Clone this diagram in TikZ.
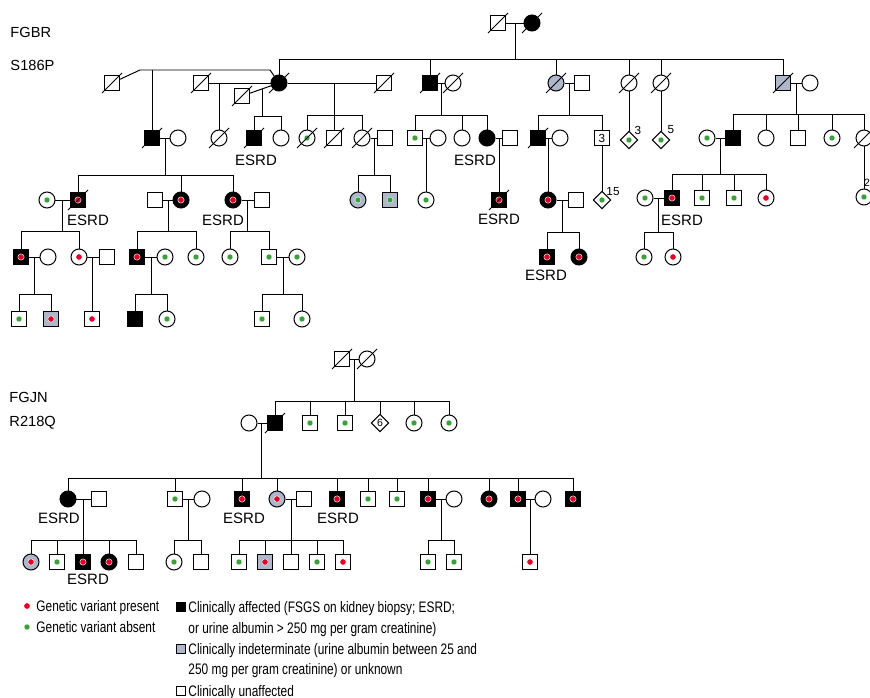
\documentclass[tikz,border=0pt]{standalone}
\usepackage{fontspec}
\setmainfont{Liberation Sans}
\newfontfamily\narrowfont[FakeStretch=0.78]{Liberation Sans}
\usetikzlibrary{shapes.geometric}

\definecolor{indgrey}{RGB}{175,183,202}
\definecolor{varred}{RGB}{226,0,38}
\definecolor{vargreen}{RGB}{58,160,58}

\begin{document}
\begin{tikzpicture}[x=0.3mm, y=-0.3mm, line width=0.85pt,
    sq/.style={draw, fill=white, minimum size=4.5mm, inner sep=0pt, font=\fontsize{10}{10}\selectfont},
    ci/.style={circle, draw, fill=white, minimum size=4.8mm, inner sep=0pt},
    dm/.style={diamond, draw, fill=white, minimum size=5.3mm, inner sep=0pt, font=\fontsize{9}{9}\selectfont},
    aff/.style={fill=black},
    ind/.style={fill=indgrey},
    redvar/.style={path picture={\filldraw[fill=varred, draw=white, line width=0.35pt]
        (path picture bounding box.center) circle[radius=0.95mm];}},
    greenvar/.style={path picture={\filldraw[fill=vargreen, draw=white, line width=0.35pt]
        (path picture bounding box.center) circle[radius=0.9mm];}},
    esrd/.style={inner sep=0pt, font=\fontsize{12.8}{14}\selectfont},
    num/.style={inner sep=0pt, font=\fontsize{10}{10}\selectfont},
    tag/.style={anchor=base west, inner sep=0pt, font=\fontsize{12.5}{14}\selectfont},
    legtxt/.style={anchor=base west, inner sep=0pt, font=\narrowfont\fontsize{13}{15}\selectfont}]

  \useasboundingbox (0,0) rectangle (870,698);
  \clip (0,0) rectangle (870,698);

  % ========== 上：FGBR 家系 ==========
  \begin{scope}[local bounding box=fgbr]

    \node[tag] (t1) at (10,38) {FGBR};
    \node[tag] (t2) at (10,71) {S186P};

    % 第一代
    \node[sq] (b11) at (498,23) {};
    \node[ci, aff] (b12) at (532,23) {};

    % 第二代
    \node[sq] (b20) at (112,83) {};
    \node[sq] (b2h) at (201,83) {};
    \node[sq] (b2k) at (242,96) {};
    \node[ci, aff] (b21) at (279,83) {};
    \node[sq] (b2m) at (384,83) {};
    \node[sq, aff] (b22) at (430,83) {};
    \node[ci] (b23) at (453,83) {};
    \node[ci, ind] (b24) at (556,83) {};
    \node[sq] (b25) at (582,83) {};
    \node[ci] (b26) at (629,83) {};
    \node[ci] (b27) at (661,83) {};
    \node[sq, ind] (b28) at (783,83) {};
    \node[ci] (b29) at (810,83) {};

    % 第三代
    \node[sq, aff] (b31) at (152,138) {};
    \node[ci] (b32) at (178,138) {};
    \node[ci] (b33) at (219,138) {};
    \node[sq, aff] (b34) at (254,138) {};
    \node[ci] (b35) at (281,138) {};
    \node[ci, greenvar] (b36) at (307,138) {};
    \node[sq] (b37) at (334,138) {};
    \node[ci] (b38) at (362,138) {};
    \node[sq] (b39) at (385,138) {};
    \node[sq, greenvar] (b3a) at (415,138) {};
    \node[ci] (b3b) at (438,138) {};
    \node[ci] (b3c) at (462,138) {};
    \node[ci, aff] (b3d) at (487,138) {};
    \node[sq] (b3e) at (510,138) {};
    \node[sq, aff] (b3f) at (538,138) {};
    \node[ci] (b3g) at (560,138) {};
    \node[sq] (b3h) at (602,138) {3};
    \node[dm, greenvar] (b3i) at (629,140) {};
    \node[dm, greenvar] (b3j) at (661,140) {};
    \node[ci, greenvar] (b3k) at (707,138) {};
    \node[sq, aff] (b3l) at (733,138) {};
    \node[ci] (b3m) at (766,138) {};
    \node[sq] (b3n) at (798,138) {};
    \node[ci, greenvar] (b3o) at (832,138) {};
    \node[ci] (b3p) at (864,138) {};

    % 第四代
    \node[ci, greenvar] (b41) at (47,200) {};
    \node[sq, aff, redvar] (b42) at (78,200) {};
    \node[sq] (b43) at (155,200) {};
    \node[ci, aff, redvar] (b44) at (181,200) {};
    \node[ci, aff, redvar] (b45) at (233,200) {};
    \node[sq] (b46) at (262,200) {};
    \node[ci, ind, greenvar] (b47) at (358,200) {};
    \node[sq, ind, greenvar] (b48) at (390,200) {};
    \node[ci, greenvar] (b49) at (426,200) {};
    \node[sq, aff, redvar] (b4a) at (499,200) {};
    \node[ci, aff, redvar] (b4b) at (548,200) {};
    \node[sq] (b4c) at (576,200) {};
    \node[dm, greenvar] (b4d) at (602,200) {};
    \node[ci, greenvar] (b4e) at (645,198) {};
    \node[sq, aff, redvar] (b4f) at (672,198) {};
    \node[sq, greenvar] (b4g) at (702,198) {};
    \node[sq, greenvar] (b4h) at (734,198) {};
    \node[ci, redvar] (b4i) at (766,198) {};
    \node[ci, greenvar] (b4j) at (864,197) {};

    % 第五代
    \node[sq, aff, redvar] (b51) at (21,257) {};
    \node[ci] (b52) at (48,257) {};
    \node[ci, redvar] (b53) at (79,257) {};
    \node[sq] (b54) at (107,257) {};
    \node[sq, aff, redvar] (b55) at (137,257) {};
    \node[ci, greenvar] (b56) at (165,257) {};
    \node[ci, greenvar] (b57) at (196,257) {};
    \node[ci, greenvar] (b58) at (230,257) {};
    \node[sq, greenvar] (b59) at (269,257) {};
    \node[ci, greenvar] (b5a) at (297,257) {};
    \node[sq, aff, redvar] (b5b) at (547,257) {};
    \node[ci, aff, redvar] (b5c) at (579,257) {};
    \node[ci, greenvar] (b5d) at (644,257) {};
    \node[ci, redvar] (b5e) at (673,257) {};

    % 第六代
    \node[sq, greenvar] (b61) at (19,319) {};
    \node[sq, ind, redvar] (b62) at (51,319) {};
    \node[sq, redvar] (b63) at (92,319) {};
    \node[sq, aff] (b64) at (135,319) {};
    \node[ci, greenvar] (b65) at (167,319) {};
    \node[sq, greenvar] (b66) at (262,319) {};
    \node[ci, greenvar] (b67) at (302,319) {};

    % 数字与 ESRD 标注
    \node[num] (n1) at (638,130) {3};
    \node[num] (n2) at (671,130) {5};
    \node[num] (n3) at (613,192) {15};
    \node[num, anchor=west, font=\fontsize{9}{9}\selectfont] (n4) at (863.6,183) {2};
    \node[esrd] (e1) at (256,160) {ESRD};
    \node[esrd] (e2) at (475,160) {ESRD};
    \node[esrd] (e3) at (88,220) {ESRD};
    \node[esrd] (e4) at (223,220) {ESRD};
    \node[esrd] (e5) at (499,219) {ESRD};
    \node[esrd] (e6) at (682,220) {ESRD};
    \node[esrd] (e7) at (546,275) {ESRD};

    % 同胞线的位置
    \coordinate (c1) at (140,70);
    \coordinate (c2) at (270,70);
    \coordinate (m2) at (262,89);
    \coordinate (f1) at (515,59);
    \coordinate (f2) at (262,116);
    \coordinate (f3) at (334,115);
    \coordinate (f4) at (441,115);
    \coordinate (f5) at (569,115);
    \coordinate (f6) at (796,114);
    \coordinate (f7) at (165,175);
    \coordinate (f8) at (374,175);
    \coordinate (f9) at (720,174);
    \coordinate (f10) at (62,231);
    \coordinate (f11) at (168,231);
    \coordinate (f12) at (247,231);
    \coordinate (f13) at (562,232);
    \coordinate (f14) at (658,232);
    \coordinate (f15) at (34,294);
    \coordinate (f16) at (151,294);
    \coordinate (f17) at (283,294);

    % 第一任丈夫的折线
    \draw (b20) -- (c1) -- (c2) -- (b21);
    \draw (b31 |- c1) -- (b31);

    % 婚配线
    \foreach \a/\b in {b11/b12, b2h/b21, b2k/b21, b21/b2m, b22/b23, b24/b25,
        b28/b29, b31/b32, b38/b39, b3a/b3b, b3d/b3e, b3f/b3g, b3k/b3l,
        b41/b42, b43/b44, b45/b46, b4b/b4c, b4e/b4f, b51/b52, b53/b54,
        b55/b56, b59/b5a}
      \draw (\a) -- (\b);

    % 独生子女
    \draw (b26) -- (b3i);
    \draw (b27) -- (b3j);
    \draw (b3h) -- (b4d);
    \draw (b3p) -- (b4j);
    \foreach \p/\c in {b2h/b33, b3a/b49, b3d/b4a, b3f/b4b, b53/b63}
      \draw (\c |- \p) -- (\c);

    % 同胞线
    \foreach \f/\p/\cs in {f1/b11/{b21,b22,b24,b26,b27,b28}, f2/m2/{b34,b35},
        f3/b2m/{b36,b37,b38}, f4/b22/{b3a,b3c,b3d}, f5/b24/{b3f,b3h},
        f6/b28/{b3l,b3m,b3n,b3o,b3p}, f7/b31/{b42,b44,b45}, f8/b38/{b47,b48},
        f9/b3k/{b4f,b4g,b4h,b4i}, f10/b41/{b51,b53}, f11/b43/{b55,b57},
        f12/b45/{b58,b59}, f13/b4b/{b5b,b5c}, f14/b4e/{b5d,b5e},
        f15/b51/{b61,b62}, f16/b55/{b64,b65}, f17/b59/{b66,b67}} {
      \draw (\f |- \p) -- (\f);
      \foreach \c in \cs
        \draw (\c) |- (\f);
    }
  \end{scope}

  % ========== 下：FGJN 家系 ==========
  \begin{scope}[local bounding box=fgjn]

    \node[tag] (t3) at (9,402) {FGJN};
    \node[tag] (t4) at (9,426) {R218Q};

    % 第一代
    \node[sq] (j11) at (342,359) {};
    \node[ci] (j12) at (367,359) {};

    % 第二代
    \node[ci] (j20) at (249,423) {};
    \node[sq, aff] (j21) at (275,423) {};
    \node[sq, greenvar] (j22) at (310,423) {};
    \node[sq, greenvar] (j23) at (345,423) {};
    \node[dm] (j24) at (380,423) {6};
    \node[ci, greenvar] (j25) at (414,423) {};
    \node[ci, greenvar] (j26) at (449,423) {};

    % 第三代
    \node[ci, aff] (j31) at (68,499) {};
    \node[sq] (j32) at (99,499) {};
    \node[sq, greenvar] (j33) at (175,499) {};
    \node[ci] (j34) at (202,499) {};
    \node[sq, aff, redvar] (j35) at (242,499) {};
    \node[ci, ind, redvar] (j36) at (277,499) {};
    \node[sq] (j37) at (304,499) {};
    \node[sq, aff, redvar] (j38) at (337,499) {};
    \node[sq, greenvar] (j39) at (368,499) {};
    \node[sq, greenvar] (j3a) at (397,499) {};
    \node[sq, aff, redvar] (j3b) at (428,499) {};
    \node[ci] (j3c) at (454,499) {};
    \node[ci, aff, redvar] (j3d) at (489,499) {};
    \node[sq, aff, redvar] (j3e) at (518,499) {};
    \node[ci] (j3f) at (543,499) {};
    \node[sq, aff, redvar] (j3g) at (573,499) {};

    % 第四代
    \node[ci, ind, redvar] (j41) at (31,562) {};
    \node[sq, greenvar] (j42) at (57,562) {};
    \node[sq, aff, redvar] (j43) at (83,562) {};
    \node[ci, aff, redvar] (j44) at (109,562) {};
    \node[sq] (j45) at (136,562) {};
    \node[ci, greenvar] (j46) at (174,562) {};
    \node[sq] (j47) at (201,562) {};
    \node[sq, greenvar] (j48) at (239,562) {};
    \node[sq, ind, redvar] (j49) at (265,562) {};
    \node[sq] (j4a) at (291,562) {};
    \node[sq, greenvar] (j4b) at (317,562) {};
    \node[sq, redvar] (j4c) at (343,562) {};
    \node[sq, greenvar] (j4d) at (428,562) {};
    \node[sq, greenvar] (j4e) at (454,562) {};
    \node[sq, redvar] (j4f) at (530,562) {};

    \node[esrd] (e8) at (59,518) {ESRD};
    \node[esrd] (e9) at (244,518) {ESRD};
    \node[esrd] (e10) at (338,518) {ESRD};
    \node[esrd] (e11) at (88,579) {ESRD};

    \coordinate (g1) at (354,401);
    \coordinate (g2) at (261,478);
    \coordinate (g3) at (83,540);
    \coordinate (g4) at (188,540);
    \coordinate (g5) at (291,540);
    \coordinate (g6) at (441,540);

    % 婚配线
    \foreach \a/\b in {j11/j12, j20/j21, j31/j32, j33/j34, j36/j37, j3b/j3c, j3e/j3f}
      \draw (\a) -- (\b);
    \draw (j4f |- j3e) -- (j4f);

    % 同胞线
    \foreach \f/\p/\cs in {g1/j11/{j21,j22,j23,j24,j25,j26},
        g2/j20/{j31,j33,j35,j36,j38,j39,j3a,j3b,j3d,j3e,j3g},
        g3/j31/{j41,j42,j43,j44,j45}, g4/j33/{j46,j47},
        g5/j36/{j48,j49,j4a,j4b,j4c}, g6/j3b/{j4d,j4e}} {
      \draw (\f |- \p) -- (\f);
      \foreach \c in \cs
        \draw (\c) |- (\f);
    }
  \end{scope}

  % 已故者的斜线
  \foreach \n in {b11,b12,b20,b2h,b2k,b21,b2m,b22,b23,b24,b26,b27,b28,b31,b33,
      b34,b36,b37,b38,b3f,b3p,b42,b4a,j11,j12,j21}
    \draw (\n.center) ++(-10,10) -- ++(20,-20);

  % ========== 图例 ==========
  \node[circle, fill=varred, draw=white, line width=0.3pt, minimum size=1.9mm, inner sep=0pt] (k1) at (27,606) {};
  \node[circle, fill=vargreen, draw=white, line width=0.3pt, minimum size=1.8mm, inner sep=0pt] (k2) at (27,627) {};
  \node[legtxt] (l1) at (36,611.5) {Genetic variant present};
  \node[legtxt] (l2) at (36,632.5) {Genetic variant absent};

  \node[draw, fill=black, minimum size=2.7mm, inner sep=0pt, line width=0.5pt] (k3) at (181,607) {};
  \node[draw, fill=indgrey, minimum size=2.7mm, inner sep=0pt, line width=0.5pt] (k4) at (181,649) {};
  \node[draw, fill=white, minimum size=2.7mm, inner sep=0pt, line width=0.5pt] (k5) at (181,691) {};
  \node[legtxt] (l3) at (188,612) {Clinically affected (FSGS on kidney biopsy; ESRD;};
  \node[legtxt] (l4) at (188,633.5) {or urine albumin > 250 mg per gram creatinine)};
  \node[legtxt] (l5) at (188,654.5) {Clinically indeterminate (urine albumin between 25 and};
  \node[legtxt] (l6) at (188,674.5) {250 mg per gram creatinine) or unknown};
  \node[legtxt] (l7) at (188,696.5) {Clinically unaffected};

\end{tikzpicture}
\end{document}
